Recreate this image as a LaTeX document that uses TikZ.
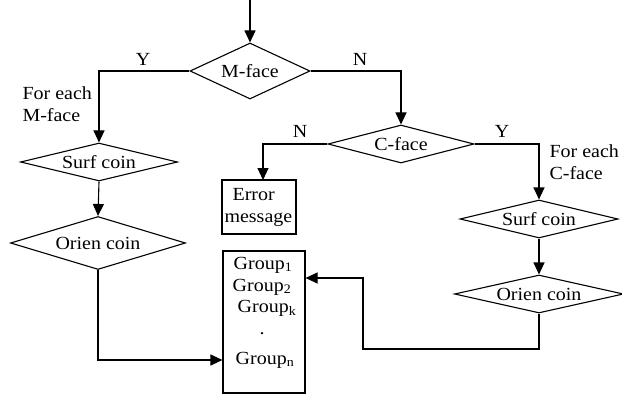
\documentclass[tikz,border=0pt]{standalone}
\usepackage{fontspec}
\setmainfont{Liberation Serif}[FakeStretch=1.08]
\usetikzlibrary{shapes.geometric,arrows.meta}
\begin{document}
\begin{tikzpicture}[x=1pt,y=-1pt,
  line width=1.1pt,
  every node/.style={font=\fontsize{18.5}{22}\selectfont},
  dia/.style={draw,diamond,inner sep=0pt,line width=1.1pt},
  boxnode/.style={draw,rectangle,inner sep=0pt,line width=1.1pt},
  txt/.style={inner sep=0pt},
  arr/.style={-{Triangle[length=12pt,width=11pt]}}]
\useasboundingbox (0,0) rectangle (622,396);
% nodes
\node[dia,aspect=2.14,minimum width=120,minimum height=56] (mface) at (250,71) {M-face};
\node[dia,aspect=4.1,minimum width=157,minimum height=38] (lsurf) at (99,162) {Surf coin};
\node[dia,aspect=3.3,minimum width=175,minimum height=53] (lorien) at (98,243) {Orien coin};
\node[dia,aspect=3.8,minimum width=146,minimum height=38] (cface) at (401,144) {C-face};
\node[dia,aspect=4.1,minimum width=158,minimum height=38] (rsurf) at (539,219) {Surf coin};
\node[dia,aspect=4.4,minimum width=169,minimum height=38] (rorien) at (539,294) {Orien coin};
\node[boxnode,minimum width=74,minimum height=54] (error) at (259,207) {};
\node[txt,align=left,anchor=west] (errtxt) at (224,207) {\hspace*{8pt}Error\\message};
\node[boxnode,minimum width=82,minimum height=142] (group) at (264,322) {};
\node[txt] (g1) at (263,265) {Group\textsubscript{1}};
\node[txt] (g2) at (262,287) {Group\textsubscript{2}};
\node[txt] (gk) at (267,308) {Group\textsubscript{k}};
\node[txt] (gdot) at (262,334) {.};
\node[txt] (gn) at (265,360) {Group\textsubscript{n}};
% labels
\node[txt] (ly1) at (143,59) {Y};
\node[txt] (ln1) at (360,59) {N};
\node[txt] (ln2) at (300,131) {N};
\node[txt] (ly2) at (502,131) {Y};
\node[txt,align=left,anchor=west] (feM) at (22,104) {For each\\M-face};
\node[txt,align=left,anchor=west] (feC) at (549,162) {For each\\C-face};
% connectors
\coordinate (start) at (250,0);
\draw[arr] (start) -- (mface.north);
\draw[arr] (mface.west) -| (lsurf.north);
\draw[arr] (mface.east) -| (cface.north);
\draw[arr] (lsurf.south) -- (lorien.north);
\coordinate (eN) at (263,180);
\draw[arr] (cface.west) -| (eN);
\draw[arr] (cface.east) -| (rsurf.north);
\draw[arr] (rsurf.south) -- (rorien.north);
\draw[arr] (lorien.south) |- (gn -| group.west);
\coordinate (c1) at (363,349);
\coordinate (c2) at (363,278);
\draw[arr] (rorien.south) |- (c1) -- (c2) -- (c2 -| group.east);
\end{tikzpicture}
\end{document}
